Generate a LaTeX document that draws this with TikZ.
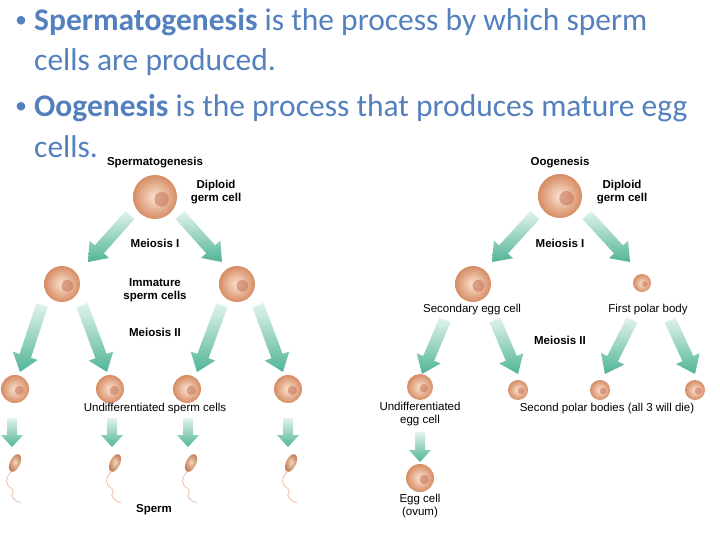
\documentclass[tikz,border=0pt]{standalone}
\usepackage{fontspec}
\setmainfont{Carlito}
\newfontfamily\lab{Liberation Sans}
\usetikzlibrary{calc,shapes.geometric}
\definecolor{ttl}{RGB}{84,128,190}
\definecolor{arrl}{RGB}{225,243,236}
\definecolor{arrd}{RGB}{80,180,150}
\definecolor{cin}{RGB}{252,228,210}
\definecolor{cout}{RGB}{214,140,100}
\definecolor{nuc}{RGB}{200,120,95}
\newcommand\fatarrow[5]{% from, to, shaft half, head half, head length
  \shade[top color=arrl, bottom color=arrd] let \p1=($(#2)-(#1)$), \n1={atan2(\y1,\x1)}, \n2={veclen(\x1,\y1)} in
   [shift={(#1)}, rotate=\n1] (0pt,-#3pt) -- (\n2-#5pt,-#3pt) -- (\n2-#5pt,-#4pt) -- (\n2,0pt) -- (\n2-#5pt,#4pt) -- (\n2-#5pt,#3pt) -- (0pt,#3pt) -- cycle;}
\newcommand\mkcell[3]{% name, pos, radius
  \node[circle, minimum size=#3*2pt, inner sep=0pt, inner color=cin, outer color=cout] (#1) at (#2) {};
  \fill[nuc, opacity=.6] ($(#1)+(#3*0.3,#3*0.1)$) circle (#3*0.33);}
\newcommand\sperm[2]{% name, pos
  \node[ellipse, minimum width=10pt, minimum height=19pt, inner sep=0pt, rotate=-25, inner color=cin!80!cout, outer color=cout!90!black] (#1) at (#2) {};
  \draw[cout!60, line width=.7pt] ($(#2)+(-4,9)$) .. controls +(-6,6) and +(-6,-4) .. ++(0,16) .. controls +(6,4) and +(-4,-4) .. ++(2,10) .. controls +(3,3) .. ++(8,5);}
\begin{document}
\begin{tikzpicture}[x=1pt,y=-1pt,
  txt/.style={font=\lab\fontsize{11.5}{13}\selectfont, align=center, inner sep=0pt},
  btxt/.style={txt, font=\lab\bfseries\fontsize{11.5}{13}\selectfont},
  ttxt/.style={font=\fontsize{31.5}{36}\selectfont, text=ttl, anchor=west, inner sep=0pt}]
\useasboundingbox (0,0) rectangle (720,540);
\fill[white] (0,0) rectangle (720,540);
% title
\node[ttxt, font=\fontsize{24}{28}\selectfont] (b1) at (15,22) {•};
\node[ttxt] (t1) at (34,22) {\textbf{Spermatogenesis} is the process by which sperm};
\node[ttxt] (t2) at (34,62) {cells are produced.};
\node[ttxt, font=\fontsize{24}{28}\selectfont] (b2) at (15,108) {•};
\node[ttxt] (t3) at (34,108) {\textbf{Oogenesis} is the process that produces mature egg};
\node[ttxt] (t4) at (34,147) {cells.};
% ---------- spermatogenesis
\node[btxt] (sg) at (155,163) {Spermatogenesis};
\mkcell{s0}{155,197}{22}
\node[btxt] (s0l) at (216,192) {Diploid\\germ cell};
\node[btxt] (m1) at (155,243) {Meiosis I};
\coordinate (a1s) at (130,215); \coordinate (a1e) at (88,262);
\coordinate (a2s) at (180,215); \coordinate (a2e) at (222,262);
\fatarrow{a1s}{a1e}{6}{13}{17}
\fatarrow{a2s}{a2e}{6}{13}{17}
\mkcell{s1}{62,284}{18}
\mkcell{s2}{237,284}{18}
\node[btxt] (iml) at (155,290) {Immature\\sperm cells};
\node[btxt] (m2) at (155,332) {Meiosis II};
\foreach \xa/\xb/\k in {42/20/a, 82/107/b, 222/197/c, 258/283/d}{
  \coordinate (s\k s) at (\xa,305); \coordinate (s\k e) at (\xb,372);
  \fatarrow{s\k s}{s\k e}{6}{13}{17}}
\foreach \x/\k in {15/a,110/b,187/c,288/d}{\mkcell{u\k}{\x,389}{14}}
\node[txt] (ul) at (155,409) {Undifferentiated sperm cells};
\foreach \x/\k in {12/a,112/b,188/c,288/d}{
  \coordinate (v\k s) at (\x,418); \coordinate (v\k e) at (\x,447);
  \fatarrow{v\k s}{v\k e}{5}{11}{12}
  \sperm{p\k}{\x+3,463}}
\node[btxt] (spl) at (154,510) {Sperm};
% ---------- oogenesis
\node[btxt] (og) at (560,163) {Oogenesis};
\mkcell{o0}{560,196}{22}
\node[btxt] (o0l) at (622,192) {Diploid\\germ cell};
\node[btxt] (om1) at (560,243) {Meiosis I};
\coordinate (b1s) at (535,215); \coordinate (b1e) at (492,262);
\coordinate (b2s) at (587,215); \coordinate (b2e) at (630,262);
\fatarrow{b1s}{b1e}{6}{13}{17}
\fatarrow{b2s}{b2e}{6}{13}{17}
\mkcell{o1}{473,284}{18}
\node[txt] (o1l) at (472,310) {Secondary egg cell};
\mkcell{o2}{642,283}{9}
\node[txt] (o2l) at (648,310) {First polar body};
\node[btxt] (om2) at (560,340) {Meiosis II};
\foreach \xa/\xb/\k in {445/422/a, 495/518/b, 632/605/c, 670/695/d}{
  \coordinate (o\k s) at (\xa,320); \coordinate (o\k e) at (\xb,374);
  \fatarrow{o\k s}{o\k e}{6}{13}{17}}
\mkcell{ua}{420,387}{13}
\foreach \x/\k in {518/b,600/c,695/d}{\mkcell{w\k}{\x,390}{10}}
\node[txt] (uel) at (420,414) {Undifferentiated\\egg cell};
\node[txt] (spb) at (607,409) {Second polar bodies (all 3 will die)};
\coordinate (ees) at (420,432); \coordinate (eee) at (420,462);
\fatarrow{ees}{eee}{5}{11}{12}
\mkcell{egg}{420,478}{14}
\node[txt] (eggl) at (420,506) {Egg cell\\(ovum)};
\end{tikzpicture}
\end{document}
